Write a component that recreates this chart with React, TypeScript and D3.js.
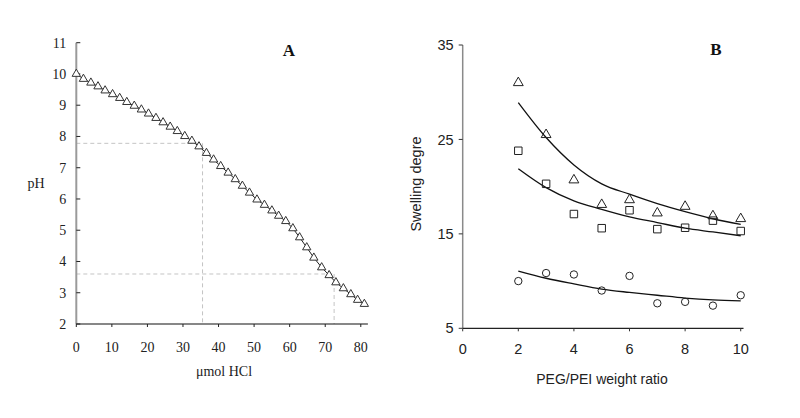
import React from "react";
import * as d3 from "d3";

// Panel A: titration curve
const hclUmol = [0, 2.0, 4.1, 6.1, 8.1, 10.2, 12.2, 14.2, 16.3, 18.3, 20.3, 22.4, 24.4, 26.4, 28.4, 30.5, 32.5, 34.5, 36.6, 38.6, 40.6, 42.7, 44.7, 46.7, 48.7, 50.8, 52.9, 55.0, 56.9, 58.9, 60.9, 62.8, 64.8, 66.8, 69.0, 71.1, 73.0, 75.1, 77.2, 79.1, 81.0];
const phValues = [10.0, 9.84, 9.72, 9.6, 9.47, 9.35, 9.23, 9.1, 8.98, 8.86, 8.73, 8.59, 8.45, 8.31, 8.17, 8.01, 7.86, 7.68, 7.47, 7.26, 7.05, 6.84, 6.63, 6.42, 6.2, 5.98, 5.81, 5.63, 5.46, 5.29, 5.06, 4.77, 4.45, 4.12, 3.81, 3.56, 3.33, 3.14, 2.95, 2.77, 2.64];
const phTicks = [2, 3, 4, 5, 6, 7, 8, 9, 10, 11];
const hclTicks = [0, 10, 20, 30, 40, 50, 60, 70, 80];
const guideA = [{ x: 35.5, y: 7.78 }, { x: 72.5, y: 3.6 }];

// Panel B: swelling degree
const ratio = [2, 3, 4, 5, 6, 7, 8, 9, 10];
const swellTri = [31.0, 25.5, 20.7, 18.1, 18.6, 17.2, 17.9, 16.9, 16.6];
const swellSq = [23.8, 20.3, 17.1, 15.6, 17.5, 15.5, 15.65, 16.4, 15.3];
const swellCir = [10.0, 10.85, 10.7, 9.0, 10.55, 7.65, 7.8, 7.4, 8.5];
const fitTri = [28.9, 25.2, 22.3, 20.3, 19.2, 18.2, 17.35, 16.6, 16.0];
const fitSq = [21.9, 19.9, 18.5, 17.6, 16.8, 16.2, 15.6, 15.2, 14.8];
const fitCir = [11.06, 10.3, 9.7, 9.15, 8.8, 8.5, 8.2, 8.0, 7.9];
const swellTicks = [5, 15, 25, 35];
const ratioTicks = [0, 2, 4, 6, 8, 10];

const SERIF = "'Liberation Serif', 'Times New Roman', serif";
const SANS = "'Liberation Sans', Arial, sans-serif";

export default function App() {
  // Panel A scales
  const xA = d3.scaleLinear().domain([0, 82]).range([76.3, 367.9]);
  const yA = d3.scaleLinear().domain([2, 11]).range([324, 42.7]);
  // Panel B scales
  const xB = d3.scaleLinear().domain([0, 10.1]).range([462.7, 743.5]);
  const yB = d3.scaleLinear().domain([5, 35]).range([328.3, 45]);

  const triA = d3.symbol(d3.symbolTriangle, 30)() as string;
  const triB = d3.symbol(d3.symbolTriangle, 42)() as string;
  const sqB = d3.symbol(d3.symbolSquare, 56)() as string;

  const lineA = d3
    .line<number>()
    .x((_, i) => xA(hclUmol[i]))
    .y((d) => yA(d))(phValues) as string;

  const fitLine = (vals: number[]) =>
    d3
      .line<number>()
      .x((_, i) => xB(ratio[i]))
      .y((d) => yB(d))
      .curve(d3.curveMonotoneX)(vals) as string;

  return (
    <svg
      width={800}
      height={418}
      style={{ position: "absolute", left: 0, top: 0, background: "#fff" }}
    >
      {/* ---------- Panel A ---------- */}
      {guideA.map((g, i) => (
        <g key={i} stroke="#c4c4c4" strokeWidth={1} strokeDasharray="4,3" fill="none">
          <line x1={xA(0)} x2={xA(g.x)} y1={yA(g.y)} y2={yA(g.y)} />
          <line x1={xA(g.x)} x2={xA(g.x)} y1={yA(g.y)} y2={yA(2)} />
        </g>
      ))}
      <line x1={xA(0)} x2={xA(0)} y1={yA(11)} y2={yA(2)} stroke="#9a9a9a" strokeWidth={2} />
      <line x1={xA(0)} x2={xA(82)} y1={yA(2)} y2={yA(2)} stroke="#111" strokeWidth={1.2} />
      {phTicks.map((t) => (
        <g key={t}>
          <line x1={xA(0)} x2={xA(0) + 4} y1={yA(t)} y2={yA(t)} stroke="#222" strokeWidth={1} />
          <text
            x={xA(0) - 10}
            y={yA(t)}
            dy="0.35em"
            textAnchor="end"
            fontFamily={SERIF}
            fontSize={14}
            fill="#222"
          >
            {t}
          </text>
        </g>
      ))}
      {hclTicks.map((t) => (
        <g key={t}>
          <line x1={xA(t)} x2={xA(t)} y1={yA(2)} y2={yA(2) + 3} stroke="#222" strokeWidth={1} />
          <text
            x={xA(t)}
            y={352}
            textAnchor="middle"
            fontFamily={SERIF}
            fontSize={14}
            fill="#222"
          >
            {t}
          </text>
        </g>
      ))}
      <text x={36} y={188} textAnchor="middle" fontFamily={SERIF} fontSize={14} fill="#222">
        pH
      </text>
      <text x={224} y={376} textAnchor="middle" fontFamily={SERIF} fontSize={14} fill="#222">
        μmol HCl
      </text>
      <text x={289} y={56} textAnchor="middle" fontFamily={SERIF} fontSize={17} fontWeight="bold" fill="#111">
        A
      </text>
      <path d={lineA} fill="none" stroke="#222" strokeWidth={1} />
      {phValues.map((v, i) => (
        <path
          key={i}
          d={triA}
          transform={`translate(${xA(hclUmol[i])},${yA(v)})`}
          fill="#fff"
          stroke="#333"
          strokeWidth={1}
        />
      ))}

      {/* ---------- Panel B ---------- */}
      <line x1={xB(0)} x2={xB(0)} y1={yB(35)} y2={yB(5)} stroke="#8a8a8a" strokeWidth={1.5} />
      <line x1={xB(0)} x2={xB(10.1)} y1={yB(5)} y2={yB(5)} stroke="#222" strokeWidth={1.2} />
      {swellTicks.map((t) => (
        <g key={t}>
          <line x1={xB(0) - 4} x2={xB(0)} y1={yB(t)} y2={yB(t)} stroke="#333" strokeWidth={1} />
          <text
            x={xB(0) - 9}
            y={yB(t)}
            dy="0.35em"
            textAnchor="end"
            fontFamily={SANS}
            fontSize={14.5}
            fill="#222"
          >
            {t}
          </text>
        </g>
      ))}
      {ratioTicks.map((t) => (
        <g key={t}>
          <line x1={xB(t)} x2={xB(t)} y1={yB(5)} y2={yB(5) + 3} stroke="#333" strokeWidth={1} />
          <text
            x={xB(t)}
            y={354}
            textAnchor="middle"
            fontFamily={SANS}
            fontSize={14.5}
            fill="#222"
          >
            {t}
          </text>
        </g>
      ))}
      <text
        transform="translate(421,184) rotate(-90)"
        textAnchor="middle"
        fontFamily={SANS}
        fontSize={14.5}
        fill="#222"
      >
        Swelling degre
      </text>
      <text x={602} y={384} textAnchor="middle" fontFamily={SANS} fontSize={14} fill="#222">
        PEG/PEI weight ratio
      </text>
      <text x={716} y={55} textAnchor="middle" fontFamily={SERIF} fontSize={17} fontWeight="bold" fill="#111">
        B
      </text>

      <path d={fitLine(fitTri)} fill="none" stroke="#111" strokeWidth={1.3} />
      <path d={fitLine(fitSq)} fill="none" stroke="#111" strokeWidth={1.3} />
      <path d={fitLine(fitCir)} fill="none" stroke="#111" strokeWidth={1.3} />

      {swellTri.map((v, i) => (
        <path
          key={`t${i}`}
          d={triB}
          transform={`translate(${xB(ratio[i])},${yB(v)})`}
          fill="none"
          stroke="#222"
          strokeWidth={1}
        />
      ))}
      {swellSq.map((v, i) => (
        <path
          key={`s${i}`}
          d={sqB}
          transform={`translate(${xB(ratio[i])},${yB(v)})`}
          fill="none"
          stroke="#222"
          strokeWidth={1}
        />
      ))}
      {swellCir.map((v, i) => (
        <circle
          key={`c${i}`}
          cx={xB(ratio[i])}
          cy={yB(v)}
          r={3.7}
          fill="none"
          stroke="#222"
          strokeWidth={1}
        />
      ))}
    </svg>
  );
}
